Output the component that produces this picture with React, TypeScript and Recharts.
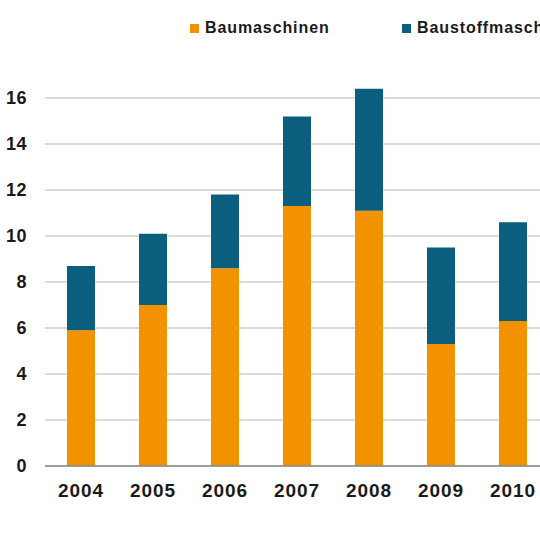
import React from 'react';
import { BarChart, Bar, XAxis, YAxis, CartesianGrid, Legend } from 'recharts';

const years = ['2004', '2005', '2006', '2007', '2008', '2009', '2010'];
const baumaschinen = [5.9, 7.0, 8.6, 11.3, 11.1, 5.3, 6.3];
const baustoffmaschinen = [2.8, 3.1, 3.2, 3.9, 5.3, 4.2, 4.3];
const yTicks = [0, 2, 4, 6, 8, 10, 12, 14, 16];

const ORANGE = '#F39200';
const TEAL = '#0B5E7E';
const FONT = '"Liberation Sans", Arial, sans-serif';

const data = years.map((year, i) => ({
  year,
  Baumaschinen: baumaschinen[i],
  Baustoffmaschinen: baustoffmaschinen[i],
}));

const legendItems = [
  { label: 'Baumaschinen', color: ORANGE, left: 190 },
  { label: 'Baustoffmaschinen', color: TEAL, left: 402 },
];

const renderLegend = () => (
  <div style={{ position: 'relative', width: 560, height: 24 }}>
    {legendItems.map((item) => (
      <div
        key={item.label}
        style={{
          position: 'absolute',
          left: item.left,
          top: 0,
          display: 'flex',
          alignItems: 'center',
          whiteSpace: 'nowrap',
        }}
      >
        <span style={{ display: 'inline-block', width: 9, height: 9, background: item.color, marginRight: 6 }} />
        <span style={{ fontFamily: FONT, fontWeight: 'bold', fontSize: 16, letterSpacing: 0.9, color: '#1a1a1a' }}>
          {item.label}
        </span>
      </div>
    ))}
  </div>
);

const App: React.FC = () => {
  return (
    <div style={{ position: 'absolute', left: 0, top: 0, width: 540, height: 540, overflow: 'hidden', background: '#fff' }}>
      <BarChart
        width={560}
        height={540}
        data={data}
        margin={{ top: 52, right: 11, left: 0, bottom: 44 }}
      >
        <CartesianGrid vertical={false} stroke="#cfcfcf" strokeWidth={1.5} horizontalValues={yTicks} />
        <XAxis
          dataKey="year"
          height={30}
          tickLine={false}
          axisLine={{ stroke: '#8a8a8a', strokeWidth: 1.5 }}
          tickSize={0}
          tickMargin={18}
          tick={{ fill: '#1a1a1a', fontSize: 19, fontWeight: 'bold', fontFamily: FONT, letterSpacing: 0.9 }}
        />
        <YAxis
          width={45}
          domain={[0, 18]}
          ticks={yTicks}
          interval={0}
          tickLine={false}
          axisLine={false}
          tickSize={0}
          tickMargin={18}
          tick={{ fill: '#1a1a1a', fontSize: 18, fontWeight: 'bold', fontFamily: FONT, letterSpacing: 0.5 }}
        />
        <Legend
          verticalAlign="middle"
          layout="horizontal"
          content={renderLegend}
          wrapperStyle={{ top: 19, left: 0, width: 560 }}
        />
        <Bar dataKey="Baumaschinen" stackId="a" fill={ORANGE} barSize={28} isAnimationActive={false} />
        <Bar dataKey="Baustoffmaschinen" stackId="a" fill={TEAL} barSize={28} isAnimationActive={false} />
      </BarChart>
    </div>
  );
};

export default App;
